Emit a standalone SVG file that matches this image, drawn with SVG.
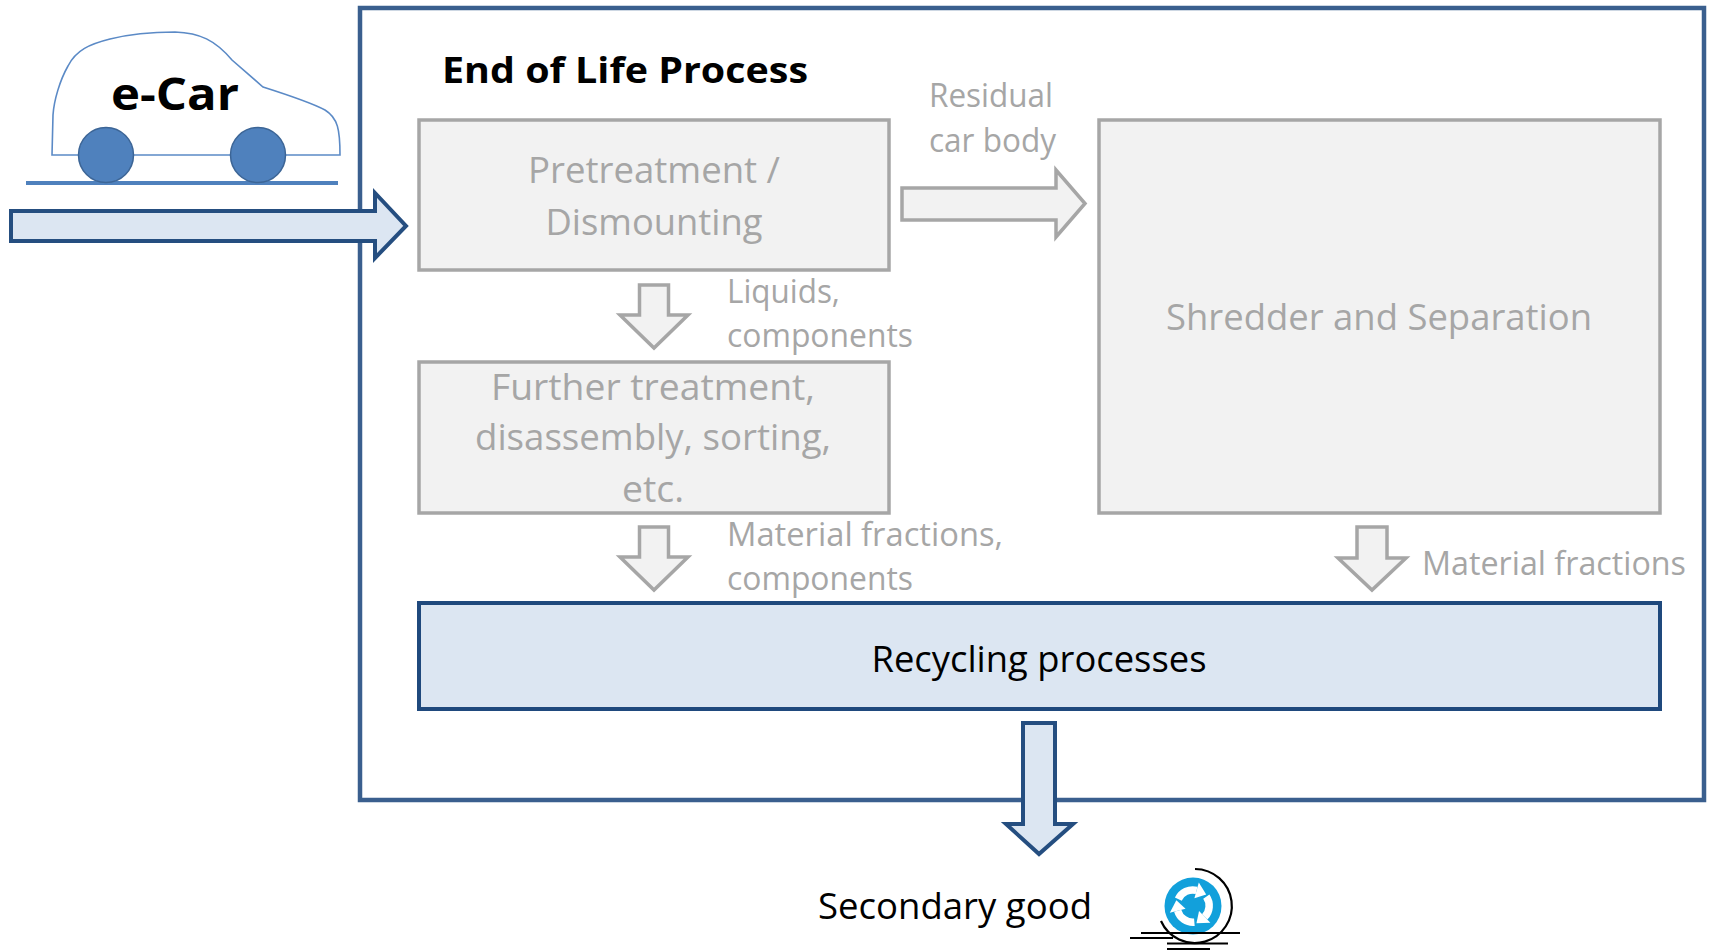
<svg xmlns="http://www.w3.org/2000/svg" xmlns:xlink="http://www.w3.org/1999/xlink" width="1711" height="951" viewBox="0 0 1711 951">
<style>
text{font-family:"Open Sans","Noto Sans","Liberation Sans",sans-serif}
.g{font-size:36px;fill:#a6a6a6}
.l{font-size:33px;fill:#a6a6a6}
.k{font-size:37px;fill:#000}
.gbox{fill:#f2f2f2;stroke:#a6a6a6;stroke-width:3.5}
.garrow{fill:#f2f2f2;stroke:#a6a6a6;stroke-width:3.5;stroke-linejoin:miter}
.barrow{fill:#dce6f2;stroke:#254e80;stroke-width:4;stroke-linejoin:miter}
.ico{stroke:#000;stroke-width:2.2;fill:none}
</style>
<defs>
<g id="rarrow">
<path d="M-14.7,-6.9 A16,16 0 0,1 3.6,-15.6" fill="none" stroke="#fff" stroke-width="7.5"/>
<polygon points="5.8,-23.4 13.2,-11.6 1.4,-7.8" fill="#fff"/>
</g>
</defs>
<rect width="1711" height="951" fill="#fff"/>

<g id="ecar">
<path d="M52,155 L53,115 C54,100 60,80 68,66 C76,50 90,44 110,39 C130,34 155,32 175,32 C200,33 215,40 232,60 L263,87 C285,94 310,102 325,110 C338,118 340,130 340,155 Z" fill="#fff" stroke="#5b8ac6" stroke-width="1.6"/>
<line x1="26" y1="183" x2="338" y2="183" stroke="#4f81bd" stroke-width="4"/>
<circle cx="106" cy="155" r="27.5" fill="#4f81bd" stroke="#3c6596" stroke-width="1.5"/>
<circle cx="258" cy="155" r="27.5" fill="#4f81bd" stroke="#3c6596" stroke-width="1.5"/>
<text x="111" y="110" font-size="44" font-weight="700" textLength="128" lengthAdjust="spacingAndGlyphs">e-Car</text>
</g>

<g id="eol-frame">
<rect x="360" y="8" width="1344" height="792" fill="none" stroke="#3a5f8e" stroke-width="4.5"/>
<text x="442" y="83" font-size="36" font-weight="700" textLength="366" lengthAdjust="spacingAndGlyphs">End of Life Process</text>
</g>

<g id="pretreatment">
<rect class="gbox" x="419" y="120" width="470" height="150"/>
<text class="g" x="654" y="183" text-anchor="middle" textLength="252" lengthAdjust="spacingAndGlyphs">Pretreatment /</text>
<text class="g" x="654" y="235" text-anchor="middle" textLength="217" lengthAdjust="spacingAndGlyphs">Dismounting</text>
</g>

<g id="further">
<rect class="gbox" x="419" y="362" width="470" height="151"/>
<text class="g" x="653" y="400" text-anchor="middle" textLength="324" lengthAdjust="spacingAndGlyphs">Further treatment,</text>
<text class="g" x="653" y="450" text-anchor="middle" textLength="356" lengthAdjust="spacingAndGlyphs">disassembly, sorting,</text>
<text class="g" x="653" y="502" text-anchor="middle" textLength="62" lengthAdjust="spacingAndGlyphs">etc.</text>
</g>

<g id="shredder">
<rect class="gbox" x="1099" y="120" width="561" height="393"/>
<text class="g" x="1379" y="330" text-anchor="middle" textLength="426" lengthAdjust="spacingAndGlyphs">Shredder and Separation</text>
</g>

<g id="recycling">
<rect x="419" y="603" width="1241" height="106" fill="#dce6f2" stroke="#1f497d" stroke-width="4"/>
<text class="k" x="1039" y="672" text-anchor="middle" textLength="335" lengthAdjust="spacingAndGlyphs">Recycling processes</text>
</g>

<g id="secondary">
<text class="k" x="818" y="919" textLength="274" lengthAdjust="spacingAndGlyphs">Secondary good</text>
<circle cx="1193" cy="906" r="28.5" fill="#12a0db"/>
<g transform="translate(1193,906)">
<use xlink:href="#rarrow"/>
<use xlink:href="#rarrow" transform="rotate(120)"/>
<use xlink:href="#rarrow" transform="rotate(240)"/>
</g>
<path class="ico" d="M1195,869 A37,37 0 1,1 1161,921"/>
<line class="ico" x1="1141" y1="933" x2="1240" y2="933"/>
<line class="ico" x1="1130" y1="938" x2="1173" y2="938"/>
<line class="ico" x1="1167" y1="943.5" x2="1228" y2="943.5"/>
<line class="ico" x1="1167" y1="949" x2="1210" y2="949"/>
</g>

<g id="connectors">
<polygon class="barrow" points="11,211 375,211 375,193 406,226 375,258 375,241 11,241"/>
<polygon class="garrow" points="902,188 1056,188 1056,170 1085,203.5 1056,237 1056,220 902,220"/>
<polygon class="garrow" points="639.5,285 668.5,285 668.5,315 688,315 654,348 620,315 639.5,315"/>
<polygon class="garrow" points="639.5,527 668.5,527 668.5,557 688,557 654,590 620,557 639.5,557"/>
<polygon class="garrow" points="1357,527 1387,527 1387,558 1406,558 1372,590 1338,558 1357,558"/>
<polygon class="barrow" points="1023,723 1055,723 1055,824 1073,824 1039,854 1006,824 1023,824"/>
<text class="l" x="929" y="107" textLength="124" lengthAdjust="spacingAndGlyphs">Residual</text>
<text class="l" x="929" y="152" textLength="127" lengthAdjust="spacingAndGlyphs">car body</text>
<text class="l" x="727" y="303" textLength="113" lengthAdjust="spacingAndGlyphs">Liquids,</text>
<text class="l" x="727" y="347" textLength="186" lengthAdjust="spacingAndGlyphs">components</text>
<text class="l" x="727" y="546" textLength="276" lengthAdjust="spacingAndGlyphs">Material fractions,</text>
<text class="l" x="727" y="590" textLength="186" lengthAdjust="spacingAndGlyphs">components</text>
<text class="l" x="1422" y="575" textLength="264" lengthAdjust="spacingAndGlyphs">Material fractions</text>
</g>
</svg>
